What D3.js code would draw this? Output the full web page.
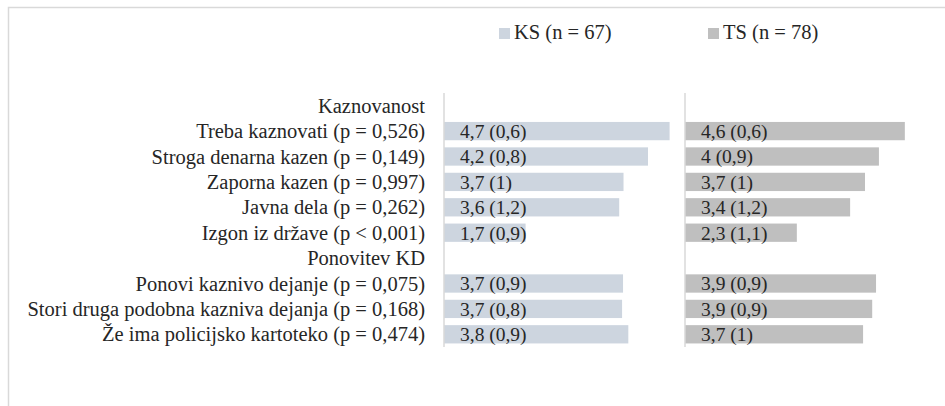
<!DOCTYPE html>
<html>
<head>
<meta charset="utf-8">
<script src="https://cdn.jsdelivr.net/npm/d3@7"></script>
<style>
  body { margin: 0; background: #fff; }
</style>
</head>
<body>
<div class="board"></div>
<script>
// rows, headers have no values
var rows = ['Kaznovanost',
  'Treba kaznovati (p = 0,526)',
  'Stroga denarna kazen (p = 0,149)',
  'Zaporna kazen (p = 0,997)',
  'Javna dela (p = 0,262)',
  'Izgon iz države (p < 0,001)',
  'Ponovitev KD',
  'Ponovi kaznivo dejanje (p = 0,075)',
  'Stori druga podobna kazniva dejanja (p = 0,168)',
  'Že ima policijsko kartoteko (p = 0,474)'];

var ksMeans = [null, 4.7, 4.25, 3.74, 3.65, 1.7, null, 3.73, 3.71, 3.84];
var ksLabels = ['', '4,7 (0,6)', '4,2 (0,8)', '3,7 (1)', '3,6 (1,2)', '1,7 (0,9)', '', '3,7 (0,9)', '3,7 (0,8)', '3,8 (0,9)'];
var tsMeans = [null, 4.58, 4.04, 3.75, 3.44, 2.33, null, 3.98, 3.9, 3.71];
var tsLabels = ['', '4,6 (0,6)', '4 (0,9)', '3,7 (1)', '3,4 (1,2)', '2,3 (1,1)', '', '3,9 (0,9)', '3,9 (0,9)', '3,7 (1)'];

var seriesNames = ['KS (n = 67)', 'TS (n = 78)'];
var colors = ['#cdd5df', '#bfbfbf'];

var font = 'Liberation Serif';

var svg = d3.select('.board').append('svg')
            .attr('width', 945)
            .attr('height', 406);

// chart frame
svg.append('rect')
   .attr('x', 8.5).attr('y', 7.5)
   .attr('width', 960).attr('height', 420)
   .attr('fill', 'none')
   .attr('stroke', '#d9d9d9')
   .attr('stroke-width', 1.5);

var y = d3.scaleBand()
          .domain(rows)
          .range([93, 347])
          .paddingInner(0.28)
          .paddingOuter(0.14);

var x = d3.scaleLinear().domain([0, 5]).range([0, 240]);

var panels = [
  {x0: 444, means: ksMeans, labels: ksLabels, color: colors[0]},
  {x0: 685, means: tsMeans, labels: tsLabels, color: colors[1]}
];

panels.forEach(function(p) {
  var g = svg.append('g').attr('transform', 'translate(' + p.x0 + ',0)');
  var idx = d3.range(rows.length).filter(function(i) { return p.means[i] !== null; });

  g.selectAll('rect')
   .data(idx)
   .enter()
   .append('rect')
   .attr('x', x(0))
   .attr('y', function(i) { return y(rows[i]); })
   .attr('width', function(i) { return x(p.means[i]); })
   .attr('height', y.bandwidth())
   .attr('fill', p.color);

  g.selectAll('text')
   .data(idx)
   .enter()
   .append('text')
   .attr('x', 16)
   .attr('y', function(i) { return y(rows[i]) + y.bandwidth() / 2; })
   .attr('dy', '0.35em')
   .attr('font-family', font)
   .attr('font-size', 19.5)
   .attr('fill', '#262626')
   .text(function(i) { return p.labels[i]; });

  g.append('line')
   .attr('x1', 0).attr('x2', 0)
   .attr('y1', 93).attr('y2', 347)
   .attr('stroke', '#d9d9d9')
   .attr('stroke-width', 1.5);
});

// category labels
svg.selectAll('text.cat')
   .data(rows)
   .enter()
   .append('text')
   .attr('class', 'cat')
   .attr('x', 425)
   .attr('y', function(d) { return y(d) + y.bandwidth() / 2; })
   .attr('dy', '0.35em')
   .attr('text-anchor', 'end')
   .attr('font-family', font)
   .attr('font-size', 20.5)
   .attr('fill', '#262626')
   .text(function(d) { return d; });

// legend
var legendX = [499, 708];
var legend = svg.selectAll('g.legend')
   .data(seriesNames)
   .enter()
   .append('g')
   .attr('class', 'legend')
   .attr('transform', function(d, i) { return 'translate(' + legendX[i] + ',28)'; });

legend.append('rect')
      .attr('width', 11).attr('height', 11)
      .attr('fill', function(d, i) { return colors[i]; });

legend.append('text')
      .attr('x', 15)
      .attr('y', 11)
      .attr('font-family', font)
      .attr('font-size', 20.5)
      .attr('fill', '#262626')
      .text(function(d) { return d; });
</script>
</body>
</html>
